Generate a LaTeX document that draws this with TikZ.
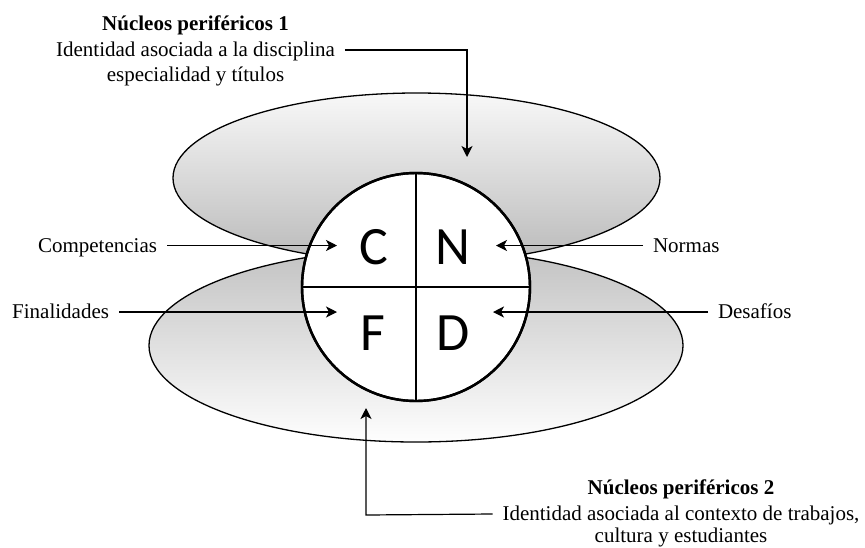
\documentclass[tikz,border=0pt]{standalone}
\usepackage{fontspec}
\setmainfont{Liberation Serif}
\newfontfamily\letterfont{Carlito}
\usetikzlibrary{arrows.meta}
\definecolor{shadeA}{HTML}{F8F8F8}
\definecolor{shadeB}{HTML}{BABABA}
\definecolor{shadeC}{HTML}{C2C2C2}
\definecolor{shadeD}{HTML}{FEFEFE}
\tikzset{
  lbl/.style={inner sep=0pt, outer xsep=10pt, outer ysep=0pt, text height=14pt, text depth=1pt,
    font=\fontsize{21}{25}\selectfont},
  ttl/.style={lbl, font=\fontsize{21}{25}\selectfont\bfseries},
  arr/.style={-{Stealth[length=11pt,width=11pt,inset=3pt]}, line width=1.2pt},
  letter/.style={inner sep=0pt, font=\letterfont\fontsize{54}{60}\selectfont},
  ell/.style={draw=black, line width=1.3pt},
}
\begin{document}
\begin{tikzpicture}[x=1pt,y=-1pt]
\useasboundingbox (0,0) rectangle (865,547);
% ellipses
\draw[ell, top color=shadeA, bottom color=shadeB] (416.5,178) ellipse [x radius=243.5pt, y radius=85pt];
\draw[ell, top color=shadeC, bottom color=shadeD] (416,345.5) ellipse [x radius=267pt, y radius=96.5pt];
% core circle
\node[circle, draw, line width=2.4pt, fill=white, minimum size=228pt, inner sep=0pt, outer sep=0pt] (core) at (416,287) {};
\draw[line width=1.2pt] (core.north) -- (core.south);
\draw[line width=1.2pt] (core.west) -- (core.east);
\node[circle, draw, line width=2.4pt, minimum size=228pt, inner sep=0pt] (ring) at (core.center) {};
% letters
\node[letter] (lC) at (374,247) {C};
\node[letter] (lN) at (453,247) {N};
\node[letter] (lF) at (373,333) {F};
\node[letter] (lD) at (453,333) {D};
% arrow tips
\coordinate (tipC) at (337,245.5);
\coordinate (tipN) at (496,245.5);
\coordinate (tipF) at (337,312);
\coordinate (tipD) at (493,312);
\coordinate (bend1) at (467,50);
\coordinate (tip1) at (467,157);
\coordinate (bend2) at (366,515);
\coordinate (tip2) at (366,408);
% side labels
\node[lbl, anchor=east] (comp) at (167,245.5) {Competencias};
\node[lbl, anchor=east] (fin) at (119,312) {Finalidades};
\node[lbl, anchor=west] (norm) at (643,245.5) {Normas};
\node[lbl, anchor=west] (desa) at (708,312) {Desafíos};
\draw[arr] (comp.east) -- (tipC);
\draw[arr] (fin.east) -- (tipF);
\draw[arr] (norm.west) -- (tipN);
\draw[arr] (desa.west) -- (tipD);
% top block
\node[ttl] (t1) at (195.5,24.2) {Núcleos periféricos 1};
\node[lbl] (t1a) at (195.5,50) {Identidad asociada a la disciplina};
\node[lbl] (t1b) at (195.5,75.2) {especialidad y títulos};
\draw[arr] (t1a.east) -- (bend1) -- (tip1);
% bottom block
\node[ttl] (t2) at (681,488) {Núcleos periféricos 2};
\node[lbl] (t2a) at (681,514) {Identidad asociada al contexto de trabajos,};
\node[lbl] (t2b) at (681,535.5) {cultura y estudiantes};
\draw[arr] (t2a.west) -- (bend2) -- (tip2);
\end{tikzpicture}
\end{document}
